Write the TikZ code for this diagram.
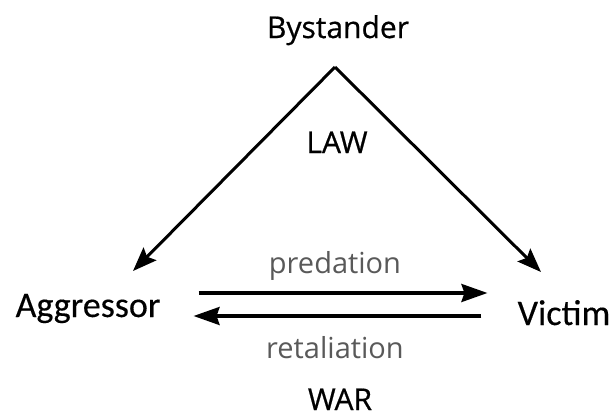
\documentclass[tikz,border=0pt]{standalone}
\usepackage{fontspec}
\setmainfont{Open Sans}
\newfontfamily\lblfont{Open Sans}[FakeBold=0.6]
\newfontfamily\sidefont{Carlito}[FakeBold=0.3]
\newfontfamily\subfont{Open Sans}
\usetikzlibrary{arrows.meta}
\begin{document}
\begin{tikzpicture}[x=1pt,y=-1pt,
  lbl/.style={font=\lblfont\fontsize{30}{34}\selectfont, text=black, inner sep=0pt, anchor=base},
  side/.style={font=\sidefont\fontsize{36}{40}\selectfont, text=black, inner sep=0pt, anchor=base},
  sublbl/.style={font=\subfont\fontsize{29}{32}\selectfont, text=black!65, inner sep=0pt, anchor=base},
  arr/.style={line width=3.2pt, -{Stealth[length=26pt,width=18pt,inset=3pt]}},
  darr/.style={line width=3pt, -{Stealth[length=24pt,width=18pt,inset=4pt]}}]
\useasboundingbox (0,0) rectangle (614,418);
\node[lbl] (by) at (338,38) {Bystander};
\node[lbl] (law) at (337,153) {LAW};
\node[side] (agg) at (88,317) {Aggressor};
\node[side] (vic) at (564,325) {Victim};
\node[sublbl] (pred) at (335,273) {predation};
\node[sublbl] (ret) at (335,358) {retaliation};
\node[lbl] (war) at (340,410) {WAR};
\coordinate (apex) at (335,67);
\coordinate (ltip) at (133,271);
\coordinate (rtip) at (541,272);
\draw[darr] (apex) -- (ltip);
\draw[darr] (apex) -- (rtip);
\draw[arr] ([xshift=38pt,yshift=24pt]agg.base east) -- ([xshift=-30pt,yshift=32pt]vic.base west);
\draw[arr] ([xshift=-36pt,yshift=9pt]vic.base west) -- ([xshift=33pt,yshift=1pt]agg.base east);
\end{tikzpicture}
\end{document}
